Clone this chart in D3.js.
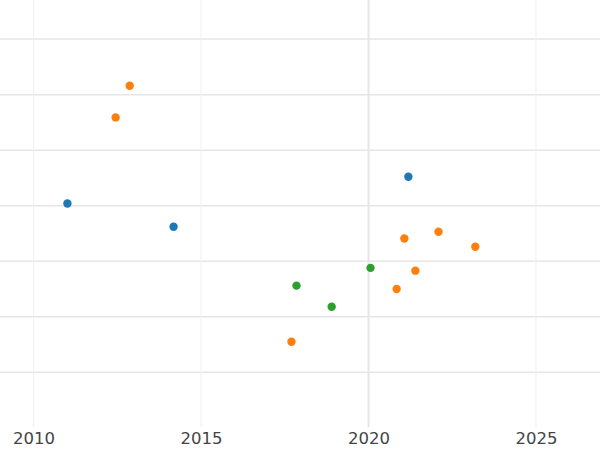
<!DOCTYPE html>
<html><head><meta charset="utf-8">
<script src="https://cdn.jsdelivr.net/npm/d3@7"></script>
<style>body{margin:0;background:#fff}</style></head>
<body><svg id="c" width="600" height="450"></svg>
<script>
const xTicks=[2010,2015,2020,2025];
const yTicks=[1,2,3,4,5,6,7];
const blueX=[2011.01,2014.18,2021.19], blueY=[4.04,3.62,4.52];
const orangeX=[2012.87,2012.45,2021.07,2022.09,2023.19,2021.40,2020.84,2017.70];
const orangeY=[6.16,5.59,3.41,3.53,3.26,2.83,2.50,1.55];
const greenX=[2017.85,2018.90,2020.06], greenY=[2.56,2.18,2.88];
const series=[{x:blueX,y:blueY,c:"#1f77b4"},{x:orangeX,y:orangeY,c:"#ff7f0e"},{x:greenX,y:greenY,c:"#2ca02c"}];
const svg=d3.select("#c");
const x=d3.scaleLinear().domain([2009.015,2026.93]).range([0.6,600.6]);
const y=d3.scaleLinear().domain([0,7.69]).range([427.8,0.8]);
svg.append("g").selectAll("line").data(yTicks).join("line")
 .attr("x1",0).attr("x2",600).attr("y1",d=>y(d)).attr("y2",d=>y(d)).attr("stroke","#e6e6e6").attr("stroke-width",1.5);
svg.append("g").selectAll("line").data(xTicks).join("line")
 .attr("y1",0).attr("y2",427).attr("x1",d=>x(d)).attr("x2",d=>x(d))
 .attr("stroke",d=>d===2020?"#e6e6e6":"#f0f0f0").attr("stroke-width",d=>d===2020?2:1);
const ax=svg.append("g").attr("transform","translate(0,427)").call(d3.axisBottom(x).tickValues(xTicks).tickFormat(d3.format("d")).tickSize(0).tickPadding(5));
ax.select(".domain").remove();
ax.selectAll("text").attr("font-family","DejaVu Sans").attr("font-size",16.5).attr("fill","#444");
series.forEach(s=>{
 svg.append("g").selectAll("circle").data(s.x.map((v,i)=>[v,s.y[i]])).join("circle")
  .attr("cx",d=>x(d[0])).attr("cy",d=>y(d[1])).attr("r",4.2).attr("fill",s.c);
});
</script></body></html>
